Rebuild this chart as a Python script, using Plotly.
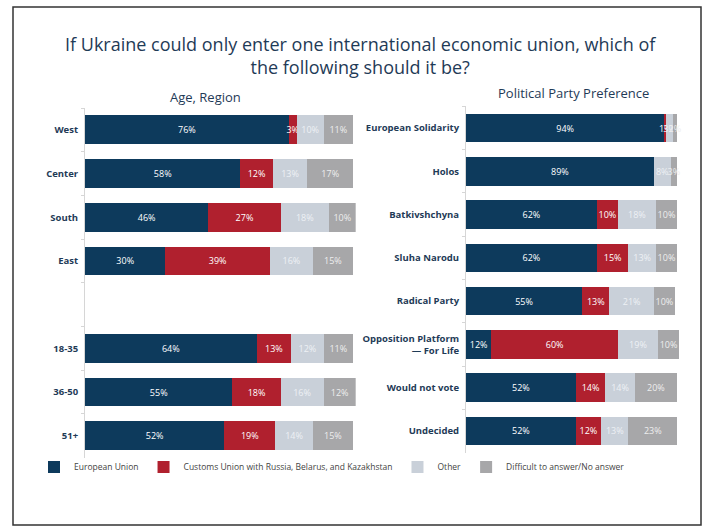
import plotly.graph_objects as go

# ---------------- data ----------------
series = ["European Union", "Customs Union with Russia, Belarus, and Kazakhstan",
          "Other", "Difficult to answer/No answer"]
colors = ["#0d3a5c", "#b0202e", "#c9d0d9", "#a7a7a9"]
text_colors = ["#ffffff", "#ffffff", "#eef1f5", "#eeeeee"]

left_cats = ["West", "Center", "South", "East", " ", "18-35", "36-50", "51+"]
left_eu = [76, 58, 46, 30, None, 64, 55, 52]
left_cu = [3, 12, 27, 39, None, 13, 18, 19]
left_other = [10, 13, 18, 16, None, 12, 16, 14]
left_dk = [11, 17, 10, 15, None, 11, 12, 15]

right_cats = ["European Solidarity", "Holos", "Batkivshchyna", "Sluha Narodu",
              "Radical Party", "Opposition Platform<br>— For Life", "Would not vote", "Undecided"]
right_eu = [94, 89, 62, 62, 55, 12, 52, 52]
right_cu = [1, 0, 10, 15, 13, 60, 14, 12]
right_other = [3, 8, 18, 13, 21, 19, 14, 13]
right_dk = [2, 3, 10, 10, 10, 10, 20, 23]

title_text = "If Ukraine could only enter one international economic union, which of<br>the following should it be?"
left_title = "Age, Region"
right_title = "Political Party Preference"

# ---------------- figure ----------------
W, H = 708, 527
FONT = "Open Sans"
NAVY = "#1f3b57"

fig = go.Figure()

def lbl(vals):
    return [("" if (v is None or v == 0) else f"{v}%") for v in vals]

left_vals = [left_eu, left_cu, left_other, left_dk]
right_vals = [right_eu, right_cu, right_other, right_dk]

for i, name in enumerate(series):
    common = dict(
        orientation="h", name=name,
        marker=dict(color=colors[i], line=dict(width=0)),
        textposition="inside", insidetextanchor="middle", textangle=0,
        textfont=dict(color=text_colors[i], size=9, family=FONT),
        legendgroup=name, hoverinfo="skip", cliponaxis=False,
    )
    fig.add_trace(go.Bar(y=left_cats, x=left_vals[i], text=lbl(left_vals[i]),
                         xaxis="x", yaxis="y", showlegend=True, **common))
    fig.add_trace(go.Bar(y=right_cats, x=right_vals[i], text=lbl(right_vals[i]),
                         xaxis="x2", yaxis="y2", showlegend=False, **common))

def px_x(p):
    return p / W

def px_y(p):
    return 1 - p / H

axis_common = dict(showgrid=False, zeroline=False, showticklabels=False, fixedrange=True,
                   range=[0, 101])
yaxis_common = dict(
    type="category", showgrid=False, zeroline=False, showline=True,
    linecolor="#d6d6d6", linewidth=1, ticks="outside", tickson="boundaries",
    ticklen=3, tickcolor="#d6d6d6", range=[7.5, -0.5], ticklabelstandoff=4,
    tickfont=dict(family=FONT, size=9.5, color=NAVY, weight="bold"),
)

fig.update_layout(
    width=W, height=H,
    margin=dict(l=0, r=0, t=0, b=0),
    paper_bgcolor="white", plot_bgcolor="white",
    barmode="stack", bargap=0.34,
    font=dict(family=FONT, color=NAVY),
    uniformtext=dict(minsize=9, mode="show"),
    xaxis=dict(domain=[px_x(85), px_x(85 + 2.68 * 101)], anchor="y", **axis_common),
    yaxis=dict(domain=[px_y(457.6), px_y(108)], anchor="x",
               categoryorder="array", categoryarray=left_cats, **yaxis_common),
    xaxis2=dict(domain=[px_x(466), px_x(466 + 2.11 * 101)], anchor="y2", **axis_common),
    yaxis2=dict(domain=[px_y(452.6), px_y(106.4)], anchor="x2",
                categoryorder="array", categoryarray=right_cats, **yaxis_common),
    legend=dict(orientation="h", x=px_x(34), y=px_y(467), xanchor="left", yanchor="middle",
                font=dict(family=FONT, size=8.5, color="#444444"),
                itemwidth=30, tracegroupgap=0, bgcolor="rgba(0,0,0,0)"),
    showlegend=True,
)

fig.add_annotation(text=title_text, x=px_x(360), y=px_y(56), xref="paper", yref="paper",
                   showarrow=False, xanchor="center", yanchor="middle",
                   font=dict(family=FONT, size=18, color=NAVY))
fig.add_annotation(text=left_title, x=px_x(205), y=px_y(97), xref="paper", yref="paper",
                   showarrow=False, xanchor="center", yanchor="middle",
                   font=dict(family=FONT, size=13, color=NAVY))
fig.add_annotation(text=right_title, x=px_x(573), y=px_y(93), xref="paper", yref="paper",
                   showarrow=False, xanchor="center", yanchor="middle",
                   font=dict(family=FONT, size=13, color=NAVY))

fig.add_shape(type="rect", xref="paper", yref="paper",
              x0=px_x(13), x1=px_x(701), y0=px_y(525), y1=px_y(7),
              line=dict(color="#333333", width=1.5), fillcolor="rgba(0,0,0,0)", layer="below")

fig.write_html("out.html")
